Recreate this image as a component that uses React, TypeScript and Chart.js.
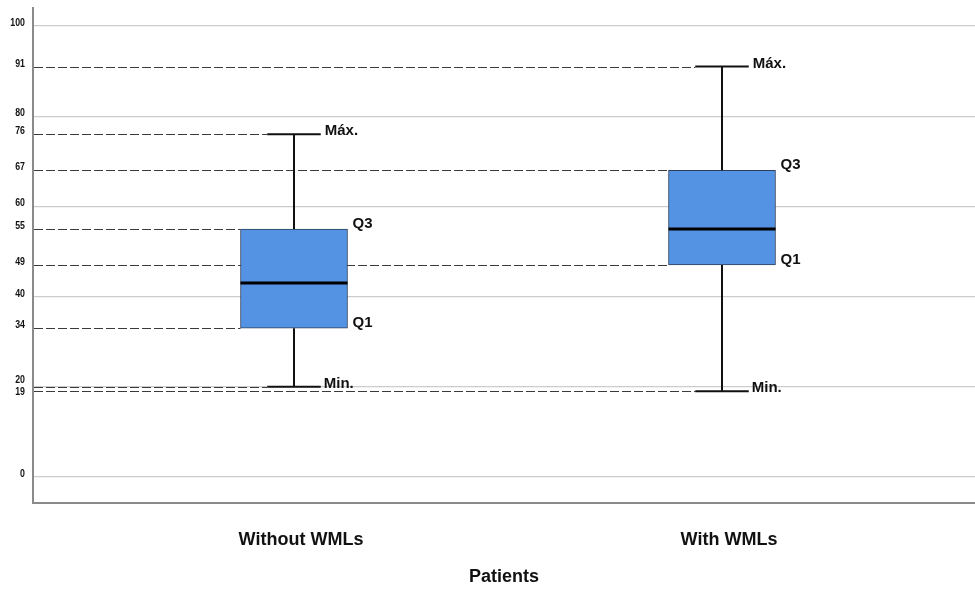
import React, { useEffect, useRef } from "react";
import { Chart, registerables } from "chart.js";

Chart.register(...registerables);

// ---- data ----
const categories = ["Without WMLs", "With WMLs"];
const minValues = [20, 19];
const q1Values = [33, 47];
const medianValues = [43, 55];
const q3Values = [55, 68];
const maxValues = [76, 91];

const gridValues = [0, 20, 40, 60, 80, 100];
const yTickValues = [0, 19, 20, 33, 40, 47, 55, 60, 68, 76, 80, 91, 100];
const yTickLabels = ["0", "19", "20", "34", "40", "49", "55", "60", "67", "76", "80", "91", "100"];

const maxLabel = "Máx.";
const q3Label = "Q3";
const q1Label = "Q1";
const minLabel = "Min.";
const xTitle = "Patients";

const FONT = "'Liberation Sans', Arial, Helvetica, sans-serif";

const boxPlotPlugin = {
  id: "boxPlotExtras",
  beforeDatasetsDraw(chart: any) {
    const { ctx, chartArea, scales } = chart;
    const yS = scales.y;
    const meta = chart.getDatasetMeta(0);
    const ends = new Map<number, number>();
    const put = (v: number, x: number) => {
      const cur = ends.get(v);
      if (cur === undefined || x < cur) ends.set(v, x);
    };
    categories.forEach((_, i) => {
      const el = meta.data[i];
      if (!el) return;
      const half = el.width / 2;
      const capHalf = el.width / 4;
      put(minValues[i], el.x - capHalf);
      put(maxValues[i], el.x - capHalf);
      put(q1Values[i], el.x - half);
      put(q3Values[i], el.x - half);
    });
    ctx.save();
    ctx.strokeStyle = "#3a3a3a";
    ctx.lineWidth = 1.2;
    ctx.setLineDash([9, 3]);
    ends.forEach((endX, v) => {
      const y = Math.round(yS.getPixelForValue(v)) + 0.5;
      ctx.beginPath();
      ctx.moveTo(chartArea.left + 1, y);
      ctx.lineTo(endX, y);
      ctx.stroke();
    });
    ctx.restore();
  },
  afterDatasetsDraw(chart: any) {
    const { ctx, chartArea, scales } = chart;
    const yS = scales.y;
    const meta = chart.getDatasetMeta(0);
    ctx.save();
    categories.forEach((_, i) => {
      const el = meta.data[i];
      if (!el) return;
      const cx = el.x;
      const half = el.width / 2;
      const capHalf = el.width / 4;
      const yMin = yS.getPixelForValue(minValues[i]);
      const yQ1 = yS.getPixelForValue(q1Values[i]);
      const yMed = yS.getPixelForValue(medianValues[i]);
      const yQ3 = yS.getPixelForValue(q3Values[i]);
      const yMax = yS.getPixelForValue(maxValues[i]);
      ctx.strokeStyle = "#111111";
      ctx.lineWidth = 2;
      ctx.setLineDash([]);
      ctx.beginPath();
      ctx.moveTo(cx, yQ3);
      ctx.lineTo(cx, yMax);
      ctx.moveTo(cx, yQ1);
      ctx.lineTo(cx, yMin);
      ctx.moveTo(cx - capHalf, yMax);
      ctx.lineTo(cx + capHalf, yMax);
      ctx.moveTo(cx - capHalf, yMin);
      ctx.lineTo(cx + capHalf, yMin);
      ctx.stroke();
      ctx.strokeStyle = "#000000";
      ctx.lineWidth = 3;
      ctx.beginPath();
      ctx.moveTo(cx - half, yMed);
      ctx.lineTo(cx + half, yMed);
      ctx.stroke();

      ctx.fillStyle = "#111111";
      ctx.font = `bold 15px ${FONT}`;
      ctx.textAlign = "left";
      ctx.textBaseline = "alphabetic";
      ctx.fillText(maxLabel, cx + capHalf + 4, yMax + 1);
      ctx.fillText(minLabel, cx + capHalf + 3, yMin + 1);
      ctx.fillText(q3Label, cx + half + 5, yQ3 - 1);
      ctx.fillText(q1Label, cx + half + 5, yQ1 - 1);
    });

    // y tick labels
    const items = yTickValues.map((v, i) => ({
      y: yS.getPixelForValue(v) - 3,
      text: yTickLabels[i],
    }));
    items.sort((a, b) => a.y - b.y);
    for (let k = 1; k < items.length; k++) {
      const gap = items[k].y - items[k - 1].y;
      if (gap < 12) {
        const push = (12 - gap) / 2;
        items[k - 1].y -= push;
        items[k].y += push;
      }
    }
    ctx.fillStyle = "#111111";
    ctx.font = `bold 11px ${FONT}`;
    ctx.textAlign = "right";
    ctx.textBaseline = "middle";
    items.forEach((it) => {
      ctx.save();
      ctx.translate(chartArea.left - 8, it.y);
      ctx.scale(0.8, 1);
      ctx.fillText(it.text, 0, 0);
      ctx.restore();
    });
    ctx.restore();
  },
};

export default function App() {
  const canvasRef = useRef<HTMLCanvasElement | null>(null);

  useEffect(() => {
    if (!canvasRef.current) return;
    const chart = new Chart(canvasRef.current, {
      type: "bar",
      data: {
        datasets: [
          {
            data: categories.map((_, i) => ({ x: i + 1, y: [q1Values[i], q3Values[i]] })) as any,
            backgroundColor: "#5493e4",
            borderColor: "#2d3e58",
            borderWidth: 1,
            borderSkipped: false,
            barThickness: 107,
          },
        ],
      },
      options: {
        animation: false,
        responsive: true,
        maintainAspectRatio: false,
        layout: { padding: { top: 8, left: 0, right: 0, bottom: 0 } },
        plugins: {
          legend: { display: false },
          tooltip: { enabled: false },
        },
        scales: {
          x: {
            type: "linear",
            offset: false,
            min: 0.3902,
            max: 2.5911,
            afterBuildTicks: (scale: any) => {
              scale.ticks = categories.map((_, i) => ({ value: i + 1 }));
            },
            afterFit: (scale: any) => {
              scale.height = 87;
            },
            grid: { display: false, drawTicks: false },
            border: { display: true, color: "#8a8a8a", width: 2 },
            ticks: {
              padding: 26,
              labelOffset: 7,
              color: "#111111",
              font: { family: FONT, size: 18, weight: "bold" },
              callback: (value: any) => categories[Number(value) - 1] ?? "",
            },
            title: {
              display: true,
              text: xTitle,
              color: "#111111",
              font: { family: FONT, size: 18, weight: "bold" },
              padding: { top: 0, bottom: 2 },
            },
          },
          y: {
            type: "linear",
            min: -5.77,
            max: 104,
            afterBuildTicks: (scale: any) => {
              scale.ticks = gridValues.map((v) => ({ value: v }));
            },
            afterFit: (scale: any) => {
              scale.width = 33;
            },
            grid: { display: true, color: "#cccccc", lineWidth: 1.2, drawTicks: false },
            border: { display: true, color: "#8a8a8a", width: 2 },
            ticks: { display: false },
          },
        },
      } as any,
      plugins: [boxPlotPlugin],
    });
    return () => chart.destroy();
  }, []);

  return (
    <div style={{ position: "absolute", left: 0, top: 0, width: 975, height: 590, background: "#ffffff" }}>
      <canvas ref={canvasRef} />
    </div>
  );
}
